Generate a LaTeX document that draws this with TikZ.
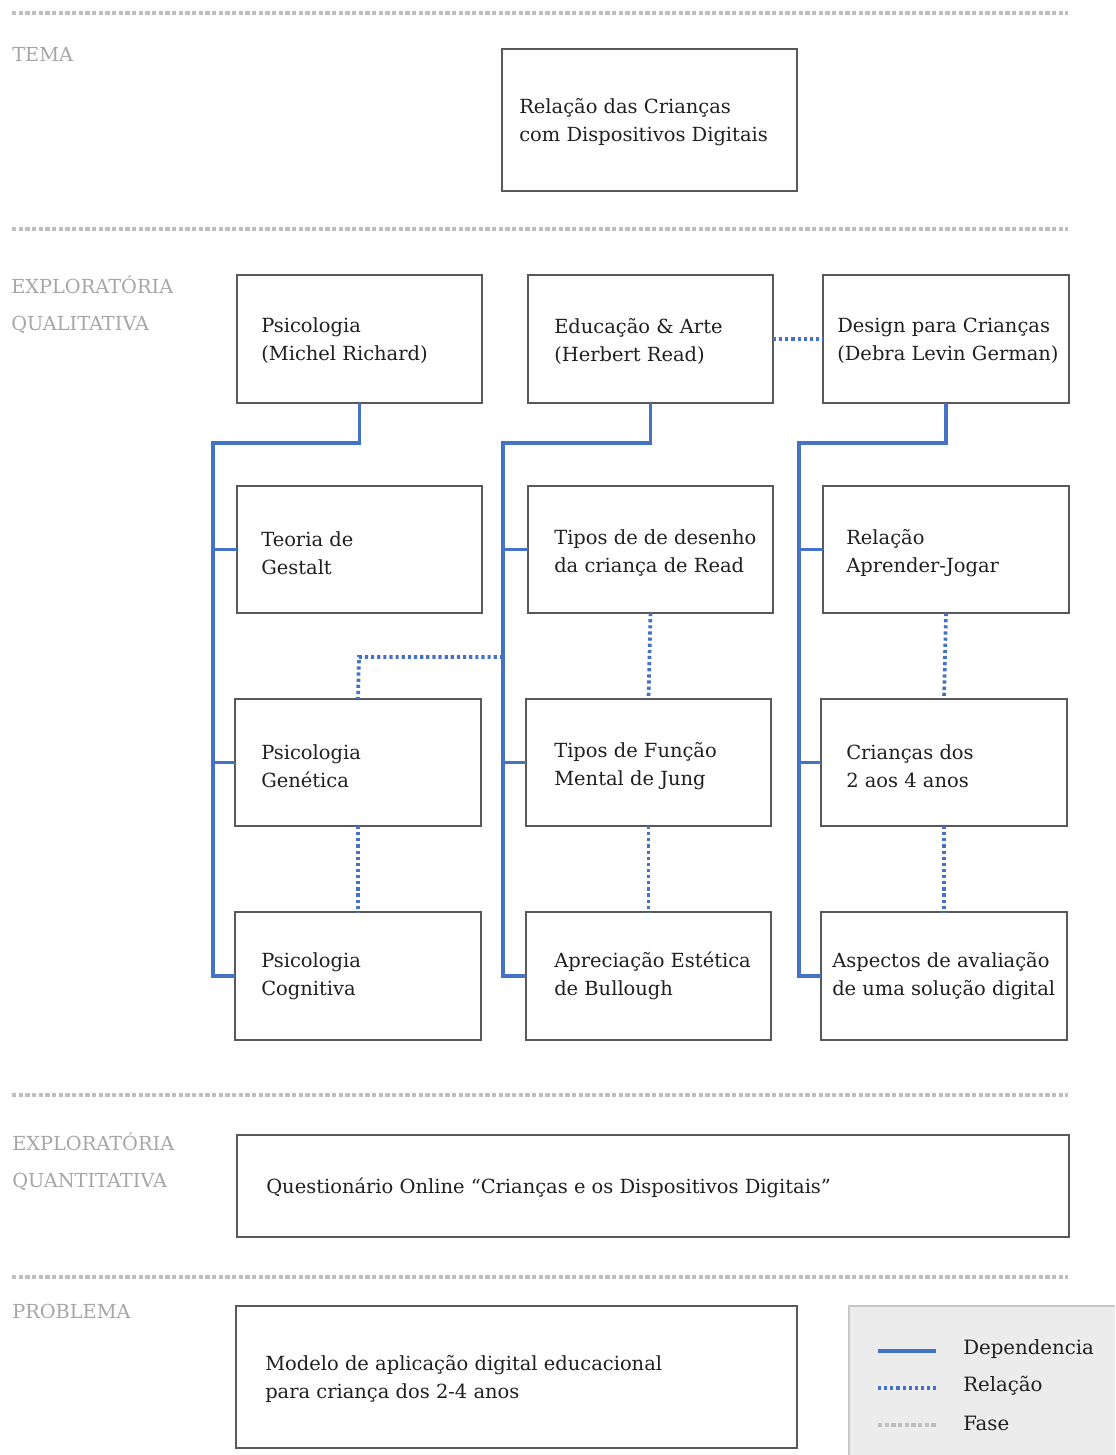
\documentclass[tikz,border=0pt]{standalone}
\usepackage{fontspec}
\setmainfont{DejaVu Serif}
\definecolor{depblue}{HTML}{4472C4}
\definecolor{boxgray}{HTML}{595959}
\definecolor{fasegray}{HTML}{BFBFBF}
\definecolor{labgray}{HTML}{A6A6A6}
\definecolor{legfill}{HTML}{ECECEC}
\definecolor{legborder}{HTML}{C8C8C8}
\definecolor{txtcol}{HTML}{1F1F1F}
\newcommand\mkbox[5]{%
  \node[boxst, minimum width={(#4-#2)*0.75pt}, minimum height={(#5-#3)*0.75pt}] (#1) at ({(#2+#4)/2},{(#3+#5)/2}) {};}
\begin{document}
\begin{tikzpicture}[x=0.75pt,y=-0.75pt,
  boxst/.style={draw=boxgray, line width=2pt, inner sep=0pt, outer sep=0pt},
  txt/.style={anchor=west, inner sep=0pt, align=left, text=txtcol, font=\fontsize{14.6}{21}\selectfont},
  phaselab/.style={anchor=north west, inner sep=0pt, align=left, text=labgray, font=\fontsize{14.5}{28}\selectfont},
  dep/.style={draw=depblue, line width=2.8pt},
  rel/.style={draw=depblue, line width=2.8pt, dash pattern=on 2.4pt off 2.2pt},
  fase/.style={draw=fasegray, line width=2.6pt, dash pattern=on 3.2pt off 1.8pt},
  legtxt/.style={anchor=west, inner sep=0pt, text=txtcol, font=\fontsize{14.8}{21}\selectfont}]
\useasboundingbox (0,0) rectangle (1115,1455);

% phase separators
\coordinate (f1a) at (12,13);   \coordinate (f1b) at (1068,13);
\coordinate (f2a) at (12,229);  \coordinate (f2b) at (1068,229);
\coordinate (f3a) at (12,1095); \coordinate (f3b) at (1068,1095);
\coordinate (f4a) at (12,1277); \coordinate (f4b) at (1068,1277);
\draw[fase] (f1a) -- (f1b);
\draw[fase] (f2a) -- (f2b);
\draw[fase] (f3a) -- (f3b);
\draw[fase] (f4a) -- (f4b);

% phase labels
\node[phaselab] (l1) at (12,47) {TEMA};
\node[phaselab] (l2) at (11,275) {EXPLORATÓRIA\\QUALITATIVA};
\node[phaselab] (l3) at (12,1132) {EXPLORATÓRIA\\QUANTITATIVA};
\node[phaselab] (l4) at (12,1304) {PROBLEMA};

% boxes
\mkbox{tema}{502}{49}{797}{191}
\node[txt] (temat) at (519,122) {Relação das Crianças\\com Dispositivos Digitais};

\mkbox{a1}{237}{275}{482}{403}
\node[txt] (a1t) at (261,341) {Psicologia\\(Michel Richard)};
\mkbox{b1}{528}{275}{773}{403}
\node[txt] (b1t) at (554,341) {Educação \& Arte\\(Herbert Read)};
\mkbox{c1}{823}{275}{1069}{403}
\node[txt] (c1t) at (837,341) {Design para Crianças\\(Debra Levin German)};

\mkbox{a2}{237}{486}{482}{613}
\node[txt] (a2t) at (261,553) {Teoria de\\Gestalt};
\mkbox{b2}{528}{486}{773}{613}
\node[txt] (b2t) at (554,553) {Tipos de de desenho\\da criança de Read};
\mkbox{c2}{823}{486}{1069}{613}
\node[txt] (c2t) at (846,553) {Relação\\Aprender-Jogar};

\mkbox{a3}{235}{699}{481}{826}
\node[txt] (a3t) at (261,766) {Psicologia\\Genética};
\mkbox{b3}{526}{699}{771}{826}
\node[txt] (b3t) at (554,766) {Tipos de Função\\Mental de Jung};
\mkbox{c3}{821}{699}{1067}{826}
\node[txt] (c3t) at (846,766) {Crianças dos\\2 aos 4 anos};

\mkbox{a4}{235}{912}{481}{1040}
\node[txt] (a4t) at (261,976) {Psicologia\\Cognitiva};
\mkbox{b4}{526}{912}{771}{1040}
\node[txt] (b4t) at (554,976) {Apreciação Estética\\de Bullough};
\mkbox{c4}{821}{912}{1067}{1040}
\node[txt] (c4t) at (832,976) {Aspectos de avaliação\\de uma solução digital};

\mkbox{quant}{237}{1135}{1069}{1237}
\node[txt] (quantt) at (266,1188) {Questionário Online “Crianças e os Dispositivos Digitais”};

\mkbox{prob}{236}{1306}{797}{1448}
\node[txt] (probt) at (265,1379) {Modelo de aplicação digital educacional\\para criança dos 2-4 anos};

% dependency trees
\coordinate (ka) at (213,443);
\coordinate (kb) at (503,443);
\coordinate (kc) at (799,443);
\draw[dep] (a1.south) |- (ka) -- (ka |- a4.west) -- (a4.west);
\draw[dep] (ka |- a2.west) -- (a2.west);
\draw[dep] (ka |- a3.west) -- (a3.west);
\draw[dep] (b1.south) |- (kb) -- (kb |- b4.west) -- (b4.west);
\draw[dep] (kb |- b2.west) -- (b2.west);
\draw[dep] (kb |- b3.west) -- (b3.west);
\draw[dep] (c1.south) |- (kc) -- (kc |- c4.west) -- (c4.west);
\draw[dep] (kc |- c2.west) -- (c2.west);
\draw[dep] (kc |- c3.west) -- (c3.west);

% relations
\draw[rel] (b1.east) -- (c1.west |- b1.east);
\draw[rel] (b2.south) -- (b3.north);
\draw[rel] (b3.south) -- (b4.north);
\draw[rel] (c2.south) -- (c3.north);
\draw[rel] (c3.south) -- (c4.north);
\draw[rel] (a3.south) -- (a4.north);
\coordinate (kg) at (359,657);
\draw[rel] (kg -| kb) -- (kg) -- (a3.north);

% legend
\fill[legfill] (849,1306) rectangle (1115,1455);
\draw[legborder, line width=1pt] (849,1455) -- (849,1306) -- (1115,1306);
\coordinate (g1a) at (878,1351); \coordinate (g1b) at (936,1351);
\coordinate (g2a) at (878,1388); \coordinate (g2b) at (936,1388);
\coordinate (g3a) at (878,1425); \coordinate (g3b) at (936,1425);
\draw[dep] (g1a) -- (g1b);
\draw[rel] (g2a) -- (g2b);
\draw[fase] (g3a) -- (g3b);
\node[legtxt] (lg1) at (963,1349) {Dependencia};
\node[legtxt] (lg2) at (963,1386) {Relação};
\node[legtxt] (lg3) at (963,1423) {Fase};
\end{tikzpicture}
\end{document}
